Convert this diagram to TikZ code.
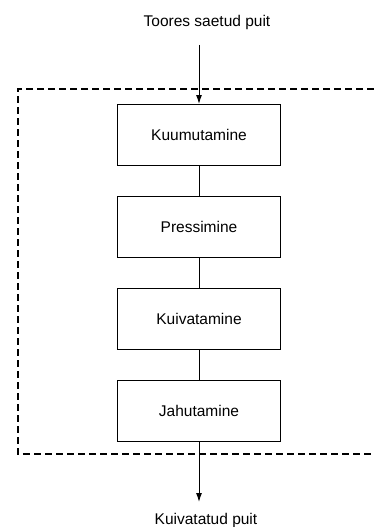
\documentclass[tikz,border=0pt]{standalone}
\usepackage{fontspec}
\setmainfont{Liberation Sans}
\usetikzlibrary{positioning, arrows.meta}

\begin{document}
\begin{tikzpicture}[
    font=\fontsize{15.5}{18}\selectfont,
    node distance=30pt,
    >={Latex[length=9pt,width=6pt]},
    stepbox/.style={
        rectangle, draw=black, line width=1pt,
        minimum width=163pt, minimum height=61pt,
        align=center
    },
    flow/.style={line width=1pt},
    frame/.style={dashed, dash pattern=on 7pt off 4pt, line width=1.1pt},
    endtext/.style={inner sep=0pt}
]
\useasboundingbox (0pt,0pt) rectangle (374pt,-527pt);

% ============ PROCESS STEPS ============
\node[stepbox] (heat) at (199pt,-135pt) {Kuumutamine};
\node[stepbox, below=of heat] (press) {Pressimine};
\node[stepbox, below=of press] (dry) {Kuivatamine};
\node[stepbox, below=of dry] (cool) {Jahutamine};

\draw[flow] (heat) -- (press);
\draw[flow] (press) -- (dry);
\draw[flow] (dry) -- (cool);

% ============ INPUT / OUTPUT ============
\coordinate[above=59pt of heat.north] (in);
\node[endtext, above=15pt of in, xshift=8pt] (raw) {Toores saetud puit};
\draw[flow, ->] (in) -- (heat);

\coordinate[below=60pt of cool.south] (out);
\node[endtext, below=11pt of out, xshift=7pt] (done) {Kuivatatud puit};
\draw[flow, ->] (cool) -- (out);

% ============ DASHED FRAME (open right) ============
\coordinate (ftr) at (374pt,-89pt);
\coordinate (ftl) at (18pt,-89pt);
\coordinate (fbl) at (18pt,-454pt);
\coordinate (fbr) at (374pt,-454pt);
\draw[frame] (ftr) -- (ftl) -- (fbl) -- (fbr);

\end{tikzpicture}
\end{document}
